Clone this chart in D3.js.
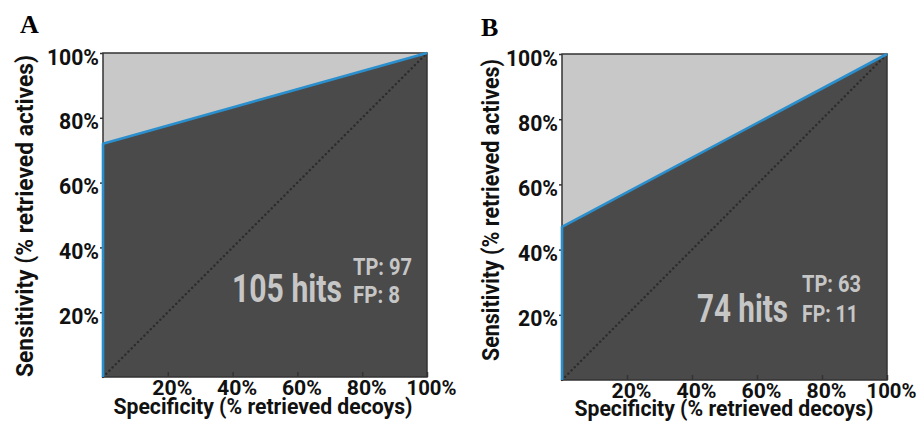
<!DOCTYPE html>
<html>
<head>
<meta charset="utf-8">
<script src="https://cdn.jsdelivr.net/npm/d3@7"></script>
<style>
  body { margin: 0; background: #fff; }
  svg { display: block; }
</style>
</head>
<body>
<div id="chart"></div>
<script>
// chart values
var panelNames = ["A", "B"]
var xTickValues = [20, 40, 60, 80, 100]
var yTickValues = [20, 40, 60, 80, 100]
var rocA = [[0, 0], [0, 72], [100, 100]]
var rocB = [[0, 0], [0, 47], [100, 100]]
var hitCounts = [105, 74]
var truePositives = [97, 63]
var falsePositives = [8, 11]

var width = 920, height = 426
var sans = "Roboto, 'Liberation Sans', sans-serif"

var svg = d3.select("#chart").append("svg")
  .attr("width", width)
  .attr("height", height)

// where each panel sits on the page
var layouts = [
  { left: 103, right: 427, top: 53, bottom: 377, letterX: 20, letterY: 33,
    yLabelX: 33, yLabelY: 216, yLabelLen: 322, xLabelX: 263, xLabelY: 414,
    hitsX: 232, hitsY: 302, tpY: 275, fpY: 303, statX: 353 },
  { left: 562, right: 887, top: 54, bottom: 380, letterX: 481, letterY: 36,
    yLabelX: 499, yLabelY: 210, yLabelLen: 302, xLabelX: 724, xLabelY: 416,
    hitsX: 697, hitsY: 322, tpY: 292, fpY: 322, statX: 802 }
]
var rocs = [rocA, rocB]

function drawPanel(i) {
  var L = layouts[i]
  var data = rocs[i]

  var x = d3.scaleLinear().domain([0, 100]).range([L.left, L.right])
  var y = d3.scaleLinear().domain([0, 100]).range([L.bottom, L.top])

  var g = svg.append("g")

  // light background = area above the curve
  g.append("rect")
    .attr("x", x(0)).attr("y", y(100))
    .attr("width", x(100) - x(0)).attr("height", y(0) - y(100))
    .attr("fill", "#c8c8c8")

  var area = d3.area()
    .x(function (d) { return x(d[0]) })
    .y0(y(0))
    .y1(function (d) { return y(d[1]) })

  g.append("path")
    .datum(data)
    .attr("d", area)
    .attr("fill", "#4a4a4a")

  // random-guess diagonal
  g.append("line")
    .attr("x1", x(0)).attr("y1", y(0))
    .attr("x2", x(100)).attr("y2", y(100))
    .attr("stroke", "#2c2c2c")
    .attr("stroke-width", 2.4)
    .attr("stroke-linecap", "round")
    .attr("stroke-dasharray", "0.1,4.4")

  // axes (ticks only)
  var xAxis = g.append("g")
    .attr("transform", "translate(0," + y(0) + ")")
    .call(d3.axisBottom(x).tickValues(xTickValues).tickSizeInner(-5).tickSizeOuter(0)
      .tickFormat(function (d) { return d + "%" }))
  xAxis.select(".domain").remove()
  xAxis.selectAll("line").attr("stroke", "#333").attr("stroke-width", 1.5)
  xAxis.selectAll("text")
    .attr("y", 18).attr("dy", 0).attr("dx", 4)
    .attr("fill", "#111")
    .style("font-size", "21px")
    .style("font-family", sans)
    .style("font-weight", "bold")
    .attr("textLength", function (d) { return d == 100 ? 50 : 40 })
    .attr("lengthAdjust", "spacingAndGlyphs")

  var yAxis = g.append("g")
    .attr("transform", "translate(" + x(0) + ",0)")
    .call(d3.axisLeft(y).tickValues(yTickValues).tickSizeInner(3).tickSizeOuter(0)
      .tickFormat(function (d) { return d + "%" }))
  yAxis.select(".domain").remove()
  yAxis.selectAll("line").attr("stroke", "#333").attr("stroke-width", 1.5)
  yAxis.selectAll("text")
    .attr("x", -4).attr("dy", 0).attr("y", 11)
    .attr("fill", "#111")
    .style("font-size", "22px")
    .style("font-family", sans)
    .style("font-weight", "bold")
    .attr("textLength", function (d) { return d == 100 ? 52 : 40 })
    .attr("lengthAdjust", "spacingAndGlyphs")

  // frame
  g.append("rect")
    .attr("x", x(0)).attr("y", y(100))
    .attr("width", x(100) - x(0)).attr("height", y(0) - y(100))
    .attr("fill", "none")
    .attr("stroke", "#333")
    .attr("stroke-width", 1.5)

  // ROC curve
  var line = d3.line()
    .x(function (d) { return x(d[0]) })
    .y(function (d) { return y(d[1]) })

  g.append("path")
    .datum(data)
    .attr("d", line)
    .attr("fill", "none")
    .attr("stroke", "#2a8fcc")
    .attr("stroke-width", 2.6)
    .attr("stroke-linejoin", "round")

  // hit summary
  g.append("text")
    .text(hitCounts[i] + " hits")
    .attr("x", L.hitsX).attr("y", L.hitsY)
    .attr("fill", "#c6c6c6")
    .style("font-family", sans).style("font-weight", "bold")
    .style("font-size", "39px")
    .attr("textLength", i == 0 ? 110 : 91)
    .attr("lengthAdjust", "spacingAndGlyphs")

  g.append("text")
    .text("TP: " + truePositives[i])
    .attr("x", L.statX).attr("y", L.tpY)
    .attr("fill", "#c6c6c6")
    .style("font-family", sans).style("font-weight", "bold")
    .style("font-size", "24px")
    .attr("textLength", 59)
    .attr("lengthAdjust", "spacingAndGlyphs")

  g.append("text")
    .text("FP: " + falsePositives[i])
    .attr("x", L.statX).attr("y", L.fpY)
    .attr("fill", "#c6c6c6")
    .style("font-family", sans).style("font-weight", "bold")
    .style("font-size", "24px")
    .attr("textLength", i == 0 ? 47 : 56)
    .attr("lengthAdjust", "spacingAndGlyphs")

  // axis titles
  svg.append("text")
    .text("Specificity (% retrieved decoys)")
    .attr("x", L.xLabelX).attr("y", L.xLabelY)
    .attr("text-anchor", "middle")
    .attr("fill", "#111")
    .style("font-family", sans).style("font-weight", "bold")
    .style("font-size", "22px")
    .attr("textLength", 299)
    .attr("lengthAdjust", "spacingAndGlyphs")

  svg.append("text")
    .text("Sensitivity (% retrieved actives)")
    .attr("transform", "translate(" + L.yLabelX + "," + L.yLabelY + ") rotate(-90)")
    .attr("text-anchor", "middle")
    .attr("fill", "#111")
    .style("font-family", sans).style("font-weight", "bold")
    .style("font-size", "23px")
    .attr("textLength", L.yLabelLen)
    .attr("lengthAdjust", "spacingAndGlyphs")

  // panel letter
  svg.append("text")
    .text(panelNames[i])
    .attr("x", L.letterX).attr("y", L.letterY)
    .attr("fill", "#000")
    .style("font-family", "'Liberation Serif', 'DejaVu Serif', serif")
    .style("font-weight", "bold")
    .style("font-size", "26px")
}

drawPanel(0)
drawPanel(1)
</script>
</body>
</html>
